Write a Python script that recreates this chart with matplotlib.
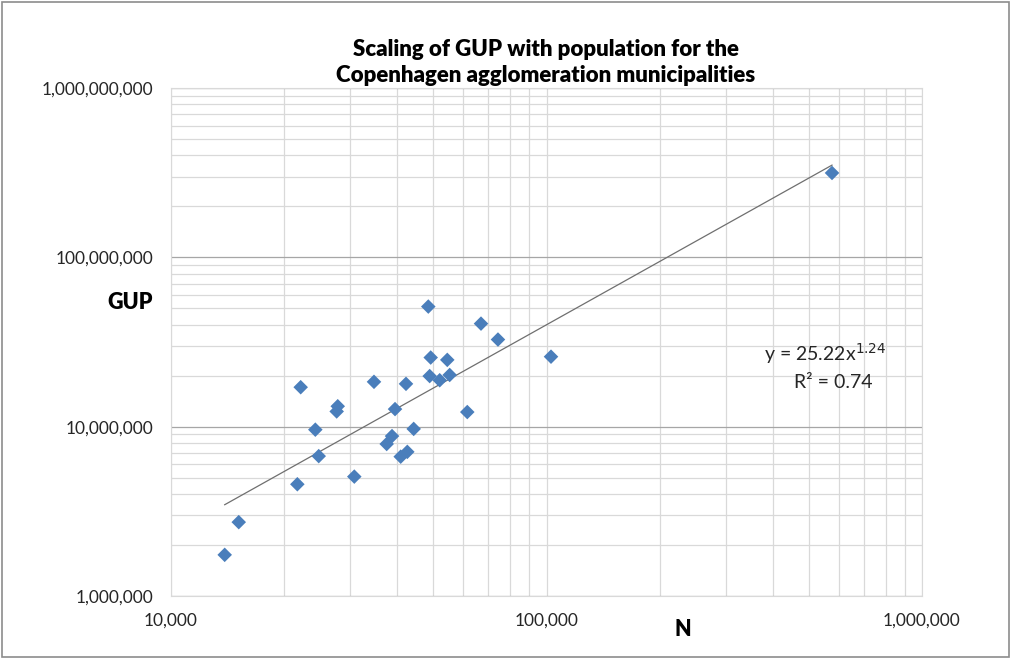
import numpy as np
import matplotlib.pyplot as plt
from matplotlib.ticker import FuncFormatter, LogLocator, NullFormatter
from matplotlib.patches import Rectangle

# Datos (población N, GUP)
population = [13900, 15150, 21700, 22150, 24230, 24740, 27620, 27800, 30770,
              34720, 37530, 38780, 39500, 40900, 42250, 42590, 44290, 48440,
              48850, 49160, 51950, 54420, 55230, 61520, 66920, 74260, 102800,
              575900]
gup = [1.75e6, 2.73e6, 4.57e6, 17.1e6, 9.6e6, 6.7e6, 12.3e6, 13.2e6, 5.07e6,
       18.4e6, 7.9e6, 8.8e6, 12.7e6, 6.65e6, 17.9e6, 7.1e6, 9.7e6, 51.2e6,
       19.9e6, 25.6e6, 18.8e6, 24.8e6, 20.2e6, 12.2e6, 40.6e6, 32.7e6, 25.9e6,
       315e6]

# Ajuste de potencia mostrado en la figura
coef_a = 25.22
coef_b = 1.24
r2 = 0.74

plt.rcParams['font.family'] = ['Lato', 'DejaVu Sans']

fig = plt.figure(figsize=(10.11, 6.59), dpi=100)
ax = fig.add_axes([171/1011, 1 - 596/659, (922 - 171)/1011, (596 - 88)/659])

ax.set_xscale('log')
ax.set_yscale('log')
ax.set_xlim(1e4, 1e6)
ax.set_ylim(1e6, 1e9)

# Rejilla estilo Excel
ax.xaxis.set_major_locator(LogLocator(base=10, numticks=10))
ax.xaxis.set_minor_locator(LogLocator(base=10, subs=np.arange(2, 10), numticks=20))
ax.yaxis.set_major_locator(LogLocator(base=10, numticks=10))
ax.yaxis.set_minor_locator(LogLocator(base=10, subs=np.arange(2, 10), numticks=20))
ax.xaxis.set_minor_formatter(NullFormatter())
ax.yaxis.set_minor_formatter(NullFormatter())
fmt = FuncFormatter(lambda v, p: f'{int(round(v)):,}')
ax.xaxis.set_major_formatter(fmt)
ax.yaxis.set_major_formatter(fmt)

ax.grid(which='minor', color='#d9d9d9', linewidth=0.9)
ax.grid(which='major', axis='x', color='#d9d9d9', linewidth=0.9)
ax.grid(which='major', axis='y', color='#a6a6a6', linewidth=0.9)
ax.set_axisbelow(True)
for s in ax.spines.values():
    s.set_color('#d9d9d9')
ax.tick_params(which='both', length=0)
ax.tick_params(axis='y', pad=13, labelsize=12.5, labelcolor='#262626')
ax.tick_params(axis='x', pad=12, labelsize=12.5, labelcolor='#262626')

# Puntos
ax.scatter(population, gup, marker='D', s=55, color='#4a7ebb',
           edgecolors='none', zorder=3)

# Línea de tendencia
x_fit = np.logspace(np.log10(min(population)), np.log10(max(population)), 100)
y_fit = coef_a * x_fit ** coef_b
ax.plot(x_fit, y_fit, color='#6f6f6f', linewidth=0.9, zorder=2)

ax.text(0.871, 0.478, f'y = {coef_a:.2f}x$^{{{coef_b:.2f}}}$', transform=ax.transAxes,
        ha='center', va='center', fontsize=14, color='#262626')
ax.text(0.882, 0.42, f'R² = {r2:.2f}', transform=ax.transAxes,
        ha='center', va='center', fontsize=14, color='#262626')

# Títulos
fig.text(0.540, 0.905, 'Scaling of GUP with population for the\nCopenhagen agglomeration municipalities',
         ha='center', va='center', fontsize=16, fontweight='heavy', linespacing=1.3)
fig.text(130/1011, 1 - 303/659, 'GUP', ha='center', va='center', fontsize=15.5,
         fontweight='heavy')
fig.text(683/1011, 1 - 630/659, 'N', ha='center', va='center', fontsize=15.5,
         fontweight='heavy')

# Borde del área del gráfico
fig.patches.append(Rectangle((0.002, 0.003), 0.996, 0.994, transform=fig.transFigure,
                             fill=False, edgecolor='#8c8c8c', linewidth=1.2))

plt.savefig('out.png', dpi=100)
plt.close()
